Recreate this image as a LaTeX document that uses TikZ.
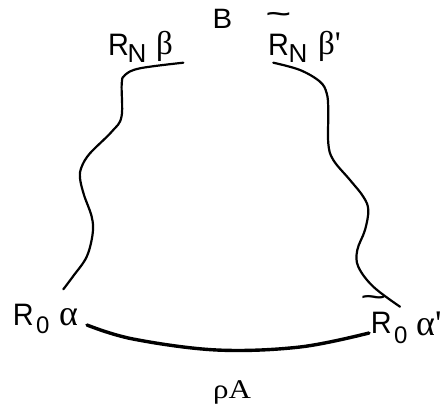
\documentclass[tikz,border=0pt]{standalone}
\usepackage{fontspec}
\usepackage{graphicx}
\setmainfont{Liberation Sans}
\newfontfamily\grk{Liberation Serif}
\newcommand\tildeover[2]{\rlap{\hspace{#1}\raisebox{#2}{\scalebox{2.1}[1]{\bfseries\fontsize{22}{22}\selectfont\textasciitilde}}}}
\tikzset{
  x=1pt, y=-1pt,
  wavy/.style={line width=2.2pt, line cap=round},
  base/.style={line width=3.4pt, line cap=round},
  rl/.style={inner sep=0pt, anchor=base west, xscale=0.93, font=\fontsize{31}{31}\selectfont},
  sub/.style={inner sep=0pt, anchor=base west, font=\fontsize{26}{26}\selectfont},
  zsub/.style={inner sep=0pt, anchor=base west, font=\fontsize{24}{24}\selectfont},
  gl/.style={inner sep=0pt, anchor=base west, font=\grk\fontsize{33}{33}\selectfont},
  ga/.style={inner sep=0pt, anchor=base west, font=\grk\fontsize{36}{36}\selectfont},
}
\begin{document}
\begin{tikzpicture}
\useasboundingbox (0,0) rectangle (442,410);
% labels
\node[inner sep=0pt, anchor=base, font=\fontsize{28}{28}\selectfont, xscale=1.05] (B) at (222.5,28) {B};
\node[rl] (RNl) at (108,55) {R};
\node[sub] (Nl) at (127.3,62) {N};
\node[gl] (bl) at (156,54) {β};
\node[rl] (RNr) at (268,55) {\tildeover{-2.6pt}{33.5pt}R};
\node[sub] (Nr) at (288.3,62) {N};
\node[gl] (br) at (318,54) {β'};
\node[rl] (R0l) at (12.8,325) {R};
\node[zsub] (0l) at (36,333) {0};
\node[ga] (al) at (59,325) {α};
\node[rl] (R0r) at (370.8,333) {\tildeover{-11pt}{29pt}R};
\node[zsub] (0r) at (394,343) {0};
\node[ga] (ar) at (416,335) {α'};
\node[inner sep=0pt, anchor=base, font=\grk\fontsize{27}{27}\selectfont, xscale=1.15] (rA) at (232,398) {ρA};
% connectors
\coordinate (l1) at (183.3,62.7);
\coordinate (l2) at (63.3,289.3);
\coordinate (r1) at (273.3,62.7);
\coordinate (r2) at (400,306.7);
\coordinate (b1) at (87,325);
\coordinate (b2) at (369,333);
\draw[wavy] plot[smooth, tension=0.6] coordinates {(l1) (140,68.3) (125,75) (121.7,84) (121.5,116.7) (111.7,131.7) (90,153.3) (81.7,166.7) (80,178) (84,195) (91.7,216.7) (92.7,233.3) (86.7,256.7) (73.3,276) (l2)};
\draw[wavy] plot[smooth, tension=0.6] coordinates {(r1) (300,70) (320,81.7) (326.7,93.3) (328.3,110) (328.3,143.3) (333.3,160) (350,180) (363.3,196.7) (368.3,210) (365,230) (357.3,250) (358.3,266.7) (373.3,286.7) (r2)};
\draw[base] plot[smooth, tension=0.6] coordinates {(b1) (133,339) (216.7,350) (300,347) (b2)};
\end{tikzpicture}
\end{document}
